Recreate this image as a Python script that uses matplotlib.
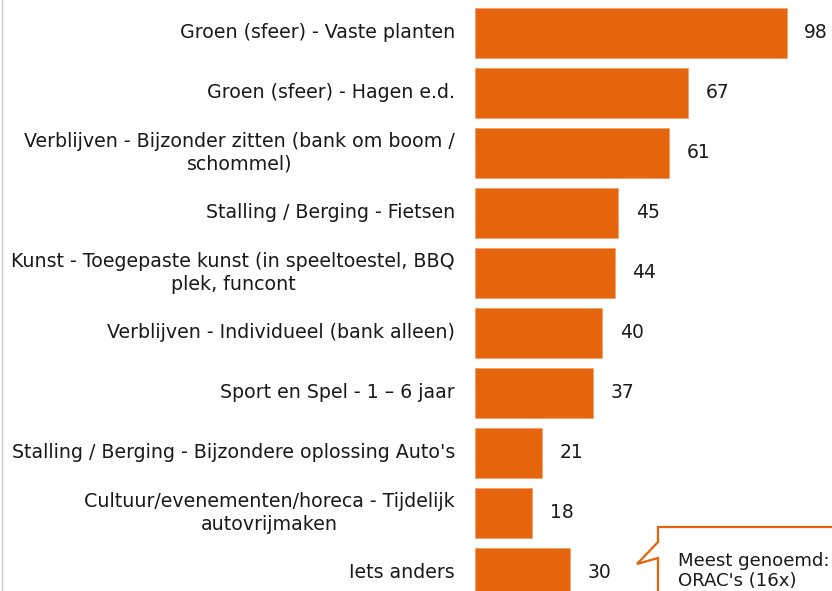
import matplotlib.pyplot as plt
from matplotlib.patches import Polygon
from matplotlib.lines import Line2D

labels = [
    "Groen (sfeer) - Vaste planten",
    "Groen (sfeer) - Hagen e.d.",
    "Verblijven - Bijzonder zitten (bank om boom /\nschommel)",
    "Stalling / Berging - Fietsen",
    "Kunst - Toegepaste kunst (in speeltoestel, BBQ\nplek, funcont",
    "Verblijven - Individueel (bank alleen)",
    "Sport en Spel - 1 \u2013 6 jaar",
    "Stalling / Berging - Bijzondere oplossing Auto's",
    "Cultuur/evenementen/horeca - Tijdelijk\nautovrijmaken",
    "Iets anders",
]
values = [98, 67, 61, 45, 44, 40, 37, 21, 18, 30]
callout_text = "Meest genoemd:\nORAC's (16x)"

W, H = 832, 591
bar_color = "#E5640C"
txt_color = "#1a1a1a"

fig = plt.figure(figsize=(W / 100, H / 100), dpi=100)
ax = fig.add_axes([475 / W, 0, 1 - 475 / W, 1])

ypos = list(range(len(values)))
ax.barh(ypos, values, height=0.83, color=bar_color, edgecolor="#f2a070", lw=0.6)
ax.set_xlim(0, (W - 475) / 3.18)
ax.set_ylim(9.3, -0.55)
ax.axis("off")

for y, v, lab in zip(ypos, values, labels):
    ax.text(v + 5.5, y, str(v), va="center", ha="left", fontsize=13.5, color=txt_color)
    ax.text(-6.3, y, lab, va="center", ha="right", multialignment="center",
            fontsize=13.7, color=txt_color, linespacing=1.25)

# thin grey line at left edge
fig.add_artist(Line2D([1.5 / W, 1.5 / W], [0, 1], color="#cccccc", lw=1,
                      transform=fig.transFigure))

# callout box
pts = [(658, 527), (840, 527), (840, 600), (658, 600), (658, 558), (637, 564), (658, 542)]
pts = [(x / W, 1 - y / H) for x, y in pts]
fig.add_artist(Polygon(pts, closed=True, facecolor="white", edgecolor=bar_color,
                       lw=1.6, transform=fig.transFigure))
fig.text(678 / W, 1 - 571 / H, callout_text, fontsize=13.1, color=txt_color,
         va="center", ha="left", linespacing=1.1)

fig.savefig("out.png", dpi=100)
